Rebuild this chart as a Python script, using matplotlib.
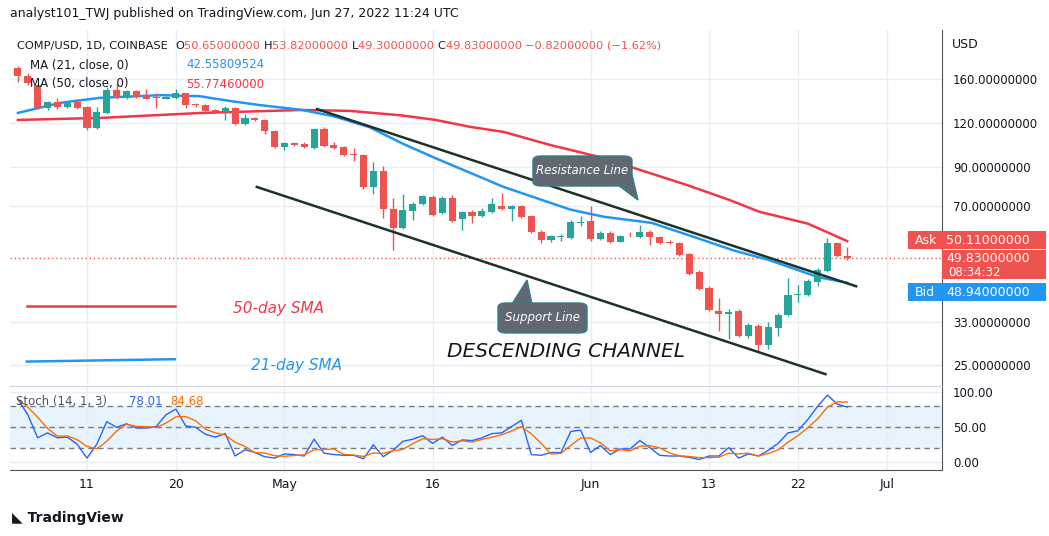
import matplotlib
matplotlib.use("Agg")
import matplotlib.pyplot as plt
import numpy as np
import pandas as pd
from matplotlib.patches import FancyBboxPatch, Polygon, Rectangle

# ---- data (daily candles Apr 4 .. Jun 27, 2022) ----
opens = [171.8,163.2,153.9,132.5,137.8,133.4,137.8,133.4,116.4,128.3,149,141.4,148,144.2,142.4,140.5,141.4,146.1,135.6,135.2,
         130.8,129.1,132.5,119.5,124.2,122.6,114.1,102.9,105.6,104.9,102.2,115.6,104.2,102.9,98.3,97.7,79.3,88,68.8,60.8,
         67.9,71.1,74.4,67,73.9,64.5,67.5,65.8,67.5,70.1,68.8,70.1,65.8,59.3,56.3,57.4,57,62.8,63.6,56.6,
         58.9,55.6,58.1,57.4,59.3,57.4,55.4,55.2,51.4,45.7,41.2,35.5,34.8,35.5,30.2,32.2,28.4,31.8,34.6,39.4,
         39.4,42.8,46,55.2,50.65]
closes = [163.2,155.9,132.5,137.8,133.4,136.9,132.5,116.4,129.1,149,141.4,148,142.4,140.5,141.4,142.4,146.1,135.2,135.2,130,
          129.1,132.5,119.5,124.2,122.6,114.1,102.9,105.6,104.2,102.9,115.6,103.6,102.2,97.7,97.7,79.3,88,68.8,60.8,68.4,
          71.1,74.8,66.2,73.9,63.6,67.5,65.8,67.9,71.1,68.8,70.1,65.3,59.3,56.3,57.7,57.6,63.2,63.2,56.6,58.9,
          55.6,57.8,57.9,59.3,57.4,55.2,55.2,51,45.1,40.9,35.7,34.8,35.2,30.2,32.4,28.4,32,34.6,39.4,39.6,
          43.1,46.3,55.2,50.7,49.83]
highs = [174,166,154,139,141,137.5,140,134,133,152,156,149,148.5,150,146,143,150,146.5,137,135.8,
         131.5,134,133,127,125,123,114.5,106,106.2,106.5,116,117,106,103.5,102,98.2,93,91,73.9,76,
         72,75.5,75.5,75,75.5,68,68.5,69,74,76.5,70.6,70.6,66.2,59.8,58.2,58.5,64,65.5,70.1,59.5,
         59.4,58.2,59,62,59.8,57.8,56.3,55.6,51.8,46.1,41.6,38.6,36,36,32.8,32.6,33,35,43.8,42,
         43.6,46.8,57,55.6,53.82]
lows = [157,154,132,131,132,132.8,131.8,115,115.8,127,140.8,140.9,141.8,140,132.5,140,140.8,132.5,133,129.5,
        128.6,122.6,119,118.5,122,112,102,101,103.7,102,101.6,102.5,101.5,97,94,78.5,76,65,52.5,60.3,
        64.1,70.6,65.7,66.5,63.1,60,62.8,65.3,67,68.3,63.5,64.8,58.8,55,55.5,55.8,56.6,61.5,56,56.2,
        55,55.3,57.4,57,54.5,54.8,54.9,50.6,44.8,40.6,35.4,31.2,29.6,29.9,29.8,27.4,27.7,30.2,34.3,37.5,
        39,41.6,45.5,50.2,49.3]
ma50_day = [0,8.4,18.6,28.8,33.6,38.7,42.3,45.8,49.2,53.9,59.4,63,67.6,72,75.1,80,84]
ma50_val = [122.6,124.2,128.3,130.8,130,126.4,122.6,117.2,113.4,104.2,95.6,88.6,80.6,73,67.5,62.5,55.77]
ma21_day = [0,4.3,8.3,14.5,18.4,21.6,24.5,28.8,32,35.6,39,42.3,46,49.2,53,56,59.4,64.2,69.3,72.5,76,81.1,84]
ma21_val = [128.3,137,141.5,144,143,138.5,135,130.8,125.5,117,105,95.6,86.5,79.3,73,68.4,65.3,62.8,56.3,52.5,49.4,44.1,42.56]
stoch_k = [89,67,34,41,34,35,25,5,25,57,49,54,48,48,50,67,75,51,49,39,35,40,8,17,13,7,5,11,10,8,
           32,12,10,9,9,4,24,7,16,29,32,37,26,35,23,31,30,34,40,41,50,59,10,9,13,13,43,45,13,23,
           10,18,18,30,20,9,8,8,6,3,8,8,20,5,11,8,16,26,41,44,60,79,95,82,78]
resist_day = [30.3, 84.9]; resist_val = [131.5, 41.6]
support_day = [24.2, 81.8]; support_val = [79.3, 23.5]
price_ticks = [160, 120, 90, 70, 33, 25]
date_pos = [7, 16, 27, 42, 58, 70, 79, 88]
date_lbl = ["11", "20", "May", "16", "Jun", "13", "22", "Jul"]

GREEN = "#26a69a"; RED = "#ef5350"; BLUE = "#2196f3"; MRED = "#f23645"; GRID = "#e9eef3"
W, H = 1049, 536
fig = plt.figure(figsize=(W/100, H/100), dpi=100)
def box(l, t, r, b):
    return [l/W, 1-b/H, (r-l)/W, (b-t)/H]
ax = fig.add_axes(box(10, 30, 942, 385))
ax2 = fig.add_axes(box(10, 386, 942, 470), sharex=ax)

n = len(opens)
x = np.arange(n)
ax.set_yscale("log")
ax.set_ylim(21.9, 219.9)
ax.set_xlim(-0.8, 93.6)
for i in range(n):
    c = GREEN if closes[i] >= opens[i] else RED
    ax.vlines(x[i], lows[i], highs[i], color=c, lw=1, zorder=3)
    lo, hi = min(opens[i], closes[i]), max(opens[i], closes[i])
    if hi / lo < 1.004:
        hi = lo * 1.004
    ax.bar(x[i], hi - lo, bottom=lo, width=0.72, color=c, zorder=4, linewidth=0)
ax.plot(ma50_day, ma50_val, color=MRED, lw=1.8, zorder=2)
ax.plot(ma21_day, ma21_val, color=BLUE, lw=1.8, zorder=2)
ax.plot(resist_day, resist_val, color="#1b3328", lw=1.8, zorder=5)
ax.plot(support_day, support_val, color="#1b3328", lw=1.8, zorder=5)
ax.axhline(closes[-1], color=RED, lw=1, ls=(0, (1, 2)), zorder=1)

ax.yaxis.tick_right()
ax.set_yticks(price_ticks)
ax.set_yticklabels([f"{v:.8f}" for v in price_ticks])
ax.yaxis.set_minor_locator(matplotlib.ticker.NullLocator())
ax.tick_params(axis="y", length=0, labelsize=8.5, pad=8, colors="#131722")
ax.set_xticks(date_pos)
ax.tick_params(axis="x", length=0, labelbottom=False)
ax.grid(True, color=GRID, lw=1)
for s in ["top", "left", "bottom"]:
    ax.spines[s].set_visible(False)
ax.spines["right"].set_color("#50535e")

# annotations
ax.plot([0.9, 15.9], [36.6, 36.6], color=MRED, lw=1.8)
ax.plot([0.9, 15.9], [25.5, 25.9], color=BLUE, lw=1.8)
ax.text(21.8, 35.0, "50-day SMA", color=MRED, fontsize=11, style="italic")
ax.text(23.6, 24.2, "21-day SMA", color=BLUE, fontsize=11, style="italic")
ax.text(43.5, 26.3, "DESCENDING CHANNEL", color="#131722", fontsize=14.5, style="italic")
def callout(l, t, r, b, txt):
    fb = FancyBboxPatch((l/W, 1-b/H), (r-l)/W, (b-t)/H, boxstyle="round,pad=0,rounding_size=0.008",
                        transform=fig.transFigure, fc="#616871", ec="#2f7f86", lw=1, zorder=10)
    fig.add_artist(fb)
    fig.text((l+r)/2/W, 1-(t+b)/2/H, txt, color="white", style="italic", fontsize=8.5,
             ha="center", va="center", zorder=11)
callout(533, 156, 632, 186, "Resistance Line")
fig.add_artist(Polygon([(618/W, 1-185/H), (632/W, 1-175/H), (638/W, 1-200/H)], closed=True,
                       transform=fig.transFigure, fc="#616871", ec="#2f7f86", lw=1, zorder=9))
callout(498, 303, 587, 333, "Support Line")
fig.add_artist(Polygon([(512/W, 1-304/H), (532/W, 1-304/H), (527/W, 1-280/H)], closed=True,
                       transform=fig.transFigure, fc="#616871", ec="#2f7f86", lw=1, zorder=9))

# right tags
def tag(l, t, r, b, color):
    fig.add_artist(Rectangle((l/W, 1-b/H), (r-l)/W, (b-t)/H, transform=fig.transFigure,
                             fc=color, ec="none", zorder=20))
tag(908, 231, 1046, 249, RED)
fig.text(915/W, 1-240/H, "Ask", color="white", fontsize=9, va="center", zorder=21)
fig.text(1030/W, 1-240/H, "50.11000000", color="white", fontsize=9, va="center", ha="right", zorder=21)
tag(942, 250, 1046, 279, RED)
fig.text(1030/W, 1-258/H, "49.83000000", color="white", fontsize=9, va="center", ha="right", zorder=21)
fig.text(1001/W, 1-272/H, "08:34:32", color="white", fontsize=8.5, va="center", ha="right", zorder=21)
tag(908, 283, 1046, 301, BLUE)
fig.text(915/W, 1-292/H, "Bid", color="white", fontsize=9, va="center", zorder=21)
fig.text(1030/W, 1-292/H, "48.94000000", color="white", fontsize=9, va="center", ha="right", zorder=21)
fig.text(952/W, 1-45/H, "USD", fontsize=9, color="#131722", va="center")

# stochastic
k = pd.Series(stoch_k, dtype=float)
d = k.rolling(3, min_periods=1).mean()
ax2.axhspan(20, 80, color="#2196f3", alpha=0.1, lw=0)
for lvl in (80, 50, 20):
    ax2.axhline(lvl, color="#787b86", lw=1, ls=(0, (4, 3)))
ax2.plot(x, k, color="#2962ff", lw=1)
ax2.plot(x, d, color="#ff6d00", lw=1)
ax2.set_ylim(-12, 108)
ax2.yaxis.tick_right()
ax2.set_yticks([100, 50, 0])
ax2.set_yticklabels(["100.00", "50.00", "0.00"])
ax2.tick_params(axis="y", length=0, labelsize=8.5, pad=8, colors="#131722")
ax2.set_xticks(date_pos)
ax2.set_xticklabels(date_lbl)
ax2.tick_params(axis="x", length=0, labelsize=9, pad=6, colors="#131722")
ax2.grid(True, color=GRID, lw=1)
ax2.spines["top"].set_color("#d1d4dc")
ax2.spines["left"].set_visible(False)
ax2.spines["right"].set_color("#50535e")
ax2.spines["bottom"].set_color("#50535e")
ax2.text(0.006, 0.82, "Stoch (14, 1, 3)", transform=ax2.transAxes, fontsize=8.5, color="#50535e", va="center")
ax2.text(0.128, 0.82, "78.01", transform=ax2.transAxes, fontsize=8.5, color="#2962ff", va="center")
ax2.text(0.172, 0.82, "84.68", transform=ax2.transAxes, fontsize=8.5, color="#ff6d00", va="center")

# header texts
fig.text(10/W, 1-14/H, "analyst101_TWJ published on TradingView.com, Jun 27, 2022 11:24 UTC", fontsize=9, va="center", color="#131722")
hx = 17/W; hy = 1-46/H
parts = [("COMP/USD, 1D, COINBASE  ", "#131722"), ("O", "#131722"), ("50.65000000 ", RED), ("H", "#131722"),
         ("53.82000000 ", RED), ("L", "#131722"), ("49.30000000 ", RED), ("C", "#131722"),
         ("49.83000000 ", RED), ("\u22120.82000000 (\u22121.62%)", RED)]
fig.canvas.draw()
rend = fig.canvas.get_renderer()
cx = hx
for s, c in parts:
    t = fig.text(cx, hy, s, fontsize=8.2, color=c, va="center")
    cx += t.get_window_extent(rend).width / W
fig.text(30/W, 1-65/H, "MA (21, close, 0)", fontsize=8.5, color="#131722", va="center")
fig.text(186/W, 1-65/H, "42.55809524", fontsize=8.5, color=BLUE, va="center")
fig.text(30/W, 1-84/H, "MA (50, close, 0)", fontsize=8.5, color="#131722", va="center")
fig.text(186/W, 1-84/H, "55.77460000", fontsize=8.5, color=MRED, va="center")
fig.text(12/W, 1-518/H, "\u25e3 TradingView", fontsize=10, fontweight="bold", color="#131722", va="center")

fig.savefig("out.png", dpi=100, facecolor="white")
